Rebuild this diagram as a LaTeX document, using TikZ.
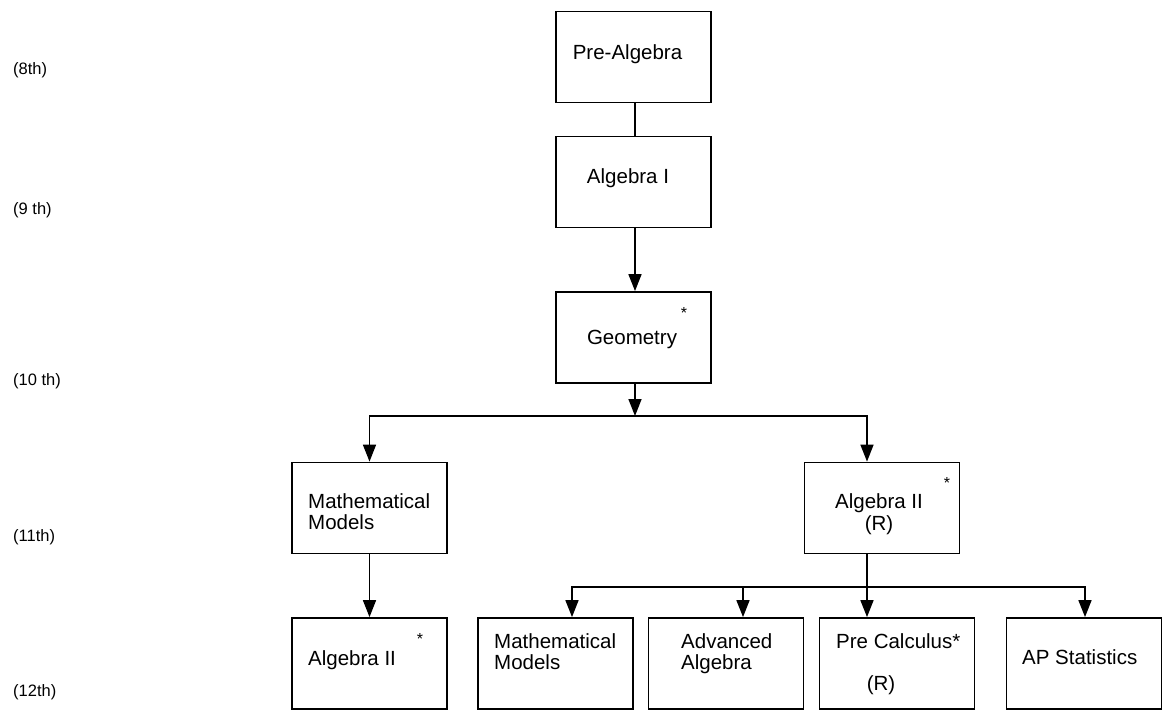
\documentclass[tikz,border=0pt]{standalone}
\usepackage{fontspec}
\setmainfont{Liberation Sans}
\usetikzlibrary{arrows.meta}
\begin{document}
\begin{tikzpicture}[x=1pt,y=-1pt,
  box/.style={draw,line width=1.8pt,minimum width=155pt,minimum height=91pt,inner sep=0pt},
  txt/.style={font=\fontsize{20.5}{24}\selectfont,inner sep=0pt},
  grade/.style={font=\fontsize{16.5}{20}\selectfont,inner sep=0pt,anchor=base west},
  star/.style={font=\fontsize{16}{18}\selectfont,inner sep=0pt},
  conn/.style={line width=1.6pt},
  arr/.style={line width=1.6pt,-{Triangle[length=17pt,width=13pt]}}]
\useasboundingbox (0,0) rectangle (1162,713);
% grade labels
\node[grade] (g8)  at (13,74)  {(8th)};
\node[grade] (g9)  at (13,214) {(9 th)};
\node[grade] (g10) at (13,385) {(10 th)};
\node[grade] (g11) at (13,541) {(11th)};
\node[grade] (g12) at (13,696) {(12th)};
% boxes
\node[box] (pre)   at (633.5,57)    {};
\node[box] (alg1)  at (633.5,182)   {};
\node[box] (geo)   at (633.5,337.5) {};
\node[box] (mm)    at (369.5,508)   {};
\node[box] (alg2r) at (882,508)     {};
\node[box] (alg2l) at (369.5,663.5) {};
\node[box] (mm2)   at (555.5,663.5) {};
\node[box] (adv)   at (726,663.5)   {};
\node[box] (pc)    at (897,663.5)   {};
\node[box] (aps)   at (1084,663.5)  {};
% texts
\node[txt,anchor=base] (tpre)  at (627.5,59.5) {Pre-Algebra};
\node[txt,anchor=base] (talg1) at (628,183.5) {Algebra I};
\node[txt,anchor=base] (tgeo)  at (632,344.5) {Geometry};
\node[star] (sgeo) at (684,313) {*};
\node[txt,anchor=base west] (tmm1) at (308,508.5) {Mathematical};
\node[txt,anchor=base west] (tmm2) at (308,529.5) {Models};
\node[txt,anchor=base] (ta2r1) at (879,508.5) {Algebra II};
\node[txt,anchor=base] (ta2r2) at (879,530.5) {(R)};
\node[star] (sa2r) at (947,483) {*};
\node[txt,anchor=base west] (ta2l) at (308,665.5) {Algebra II};
\node[star] (sa2l) at (420,639) {*};
\node[txt,anchor=base west] (tmmb1) at (494,648.5) {Mathematical};
\node[txt,anchor=base west] (tmmb2) at (494,669.5) {Models};
\node[txt,anchor=base west] (tadv1) at (681,648.5) {Advanced};
\node[txt,anchor=base west] (tadv2) at (681,669.5) {Algebra};
\node[txt,anchor=base west] (tpc1) at (836,648.5) {Pre Calculus*};
\node[txt,anchor=base] (tpc2) at (881,690.5) {(R)};
\node[txt,anchor=base west] (taps) at (1022,664.5) {AP Statistics};
% connectors
\coordinate (bus1) at (635,416);
\coordinate (bus2) at (867,587);
\draw[conn] ([xshift=1.5pt]pre.south) -- ([xshift=1.5pt]alg1.north);
\draw[arr] ([xshift=1.5pt]alg1.south) -- ([xshift=1.5pt]geo.north);
\draw[arr] ([xshift=1.5pt]geo.south) -- (bus1);
\draw[arr] (bus1) -| (mm.north);
\draw[arr] (bus1) -| ([xshift=-15pt]alg2r.north);
\draw[arr] (mm.south) -- (alg2l.north);
\draw[conn] ([xshift=-15pt]alg2r.south) -- (bus2);
\draw[arr] (bus2) -- ([xshift=-30pt]pc.north);
\draw[arr] (bus2) -| ([xshift=16.5pt]mm2.north);
\draw[arr] (bus2) -| ([xshift=17pt]adv.north);
\draw[arr] (bus2) -| ([xshift=1pt]aps.north);
\end{tikzpicture}
\end{document}
